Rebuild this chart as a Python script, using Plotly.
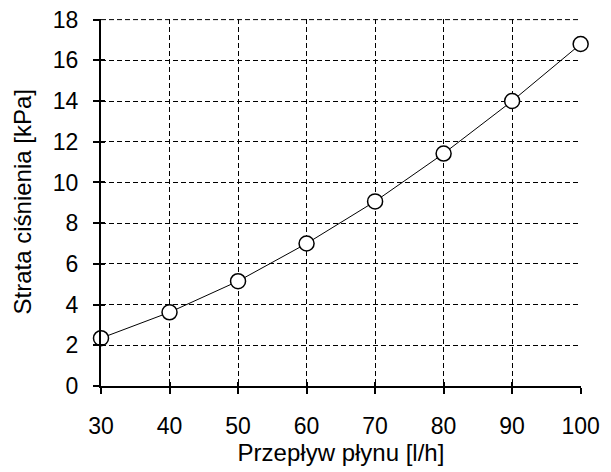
import plotly.graph_objects as go

flow = [30, 40, 50, 60, 70, 80, 90, 100]
pressure_loss = [2.35, 3.62, 5.15, 7.0, 9.07, 11.42, 14.0, 16.8]
x_ticks = [30, 40, 50, 60, 70, 80, 90, 100]
y_ticks = [0, 2, 4, 6, 8, 10, 12, 14, 16, 18]

font = dict(family="Liberation Sans, Arial, sans-serif", size=23, color="black")
tfont = dict(family="Liberation Sans, Arial, sans-serif", size=24, color="black")

fig = go.Figure()
fig.add_trace(go.Scatter(
    x=flow, y=pressure_loss, mode="lines+markers",
    line=dict(color="black", width=1),
    marker=dict(symbol="circle", size=15, color="white",
                line=dict(color="black", width=1.5)),
    cliponaxis=False, showlegend=False,
))
fig.add_trace(go.Scatter(x=[30], y=[0], xaxis="x2", yaxis="y2",
                         mode="markers", marker=dict(opacity=0),
                         showlegend=False, hoverinfo="skip"))

common = dict(showgrid=True, gridcolor="black", gridwidth=1, griddash="5px,3px",
              zeroline=False, showline=True, linecolor="black", linewidth=2,
              ticks="outside", ticklen=6, tickwidth=1.5, tickcolor="black",
              tickfont=font, automargin=False)

fig.update_layout(
    width=611, height=472,
    margin=dict(l=101, r=30, t=19, b=86),
    paper_bgcolor="white", plot_bgcolor="white",
    font=font,
    xaxis=dict(range=[30, 100.05], tickvals=x_ticks, ticklabelstandoff=12,
               title=dict(text="Przepływ płynu [l/h]", font=tfont, standoff=4),
               **common),
    yaxis=dict(range=[0, 18.03], tickvals=y_ticks, ticklabelstandoff=10,
               **common),
    xaxis2=dict(overlaying="x", matches="x", range=[30, 100.05], tickvals=x_ticks,
                ticks="inside", ticklen=4, tickwidth=1.5, tickcolor="black",
                showticklabels=False, showgrid=False, zeroline=False, side="bottom",
                anchor="y2"),
    yaxis2=dict(overlaying="y", matches="y", range=[0, 18.03], tickvals=y_ticks,
                ticks="inside", ticklen=4, tickwidth=1.5, tickcolor="black",
                showticklabels=False, showgrid=False, zeroline=False, side="left",
                anchor="x2"),
)

# y-axis title
fig.add_annotation(text="Strata ciśnienia [kPa]", xref="paper", yref="paper",
                   x=0, y=0.5, xshift=-79, xanchor="center", yanchor="middle",
                   textangle=-90, showarrow=False, font=tfont)

# top dashed gridline (frame edge at the highest tick)
fig.add_shape(type="line", xref="paper", yref="y", x0=0, x1=1,
              y0=max(y_ticks), y1=max(y_ticks),
              line=dict(color="black", width=1, dash="5px,3px"), layer="below")

fig.write_html("out.html", post_script="document.body.style.margin='0';",
               config={"displayModeBar": False})
